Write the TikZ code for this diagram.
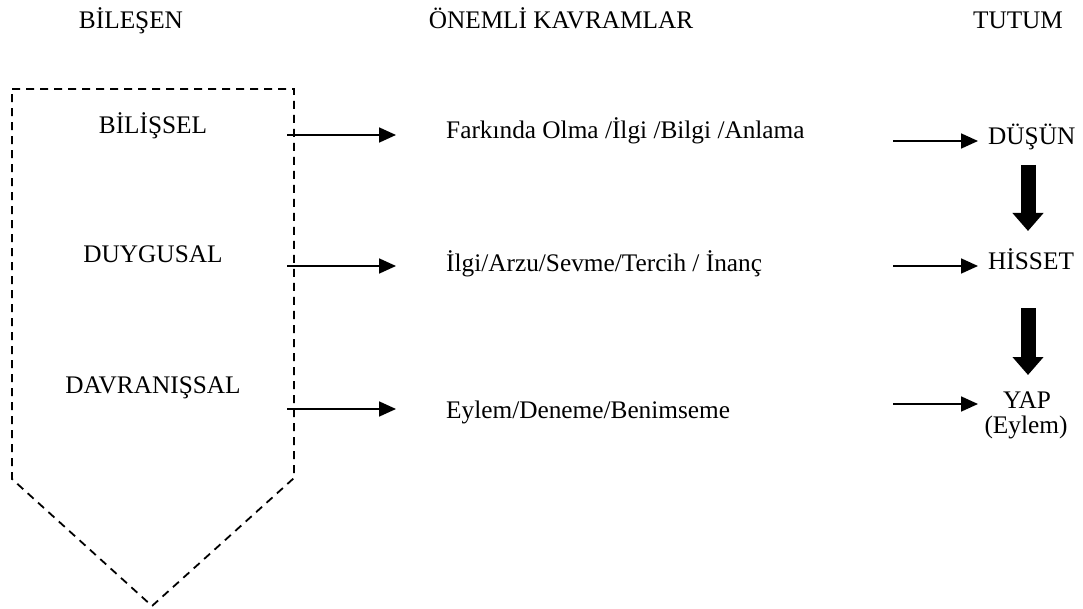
\documentclass[tikz,border=0pt]{standalone}
\usepackage{fontspec}
\setmainfont{Liberation Serif}
\usetikzlibrary{arrows.meta}
\begin{document}
\begin{tikzpicture}[x=1pt,y=-1pt,
  txt/.style={inner sep=0pt,font=\fontsize{25.3}{30}\selectfont},
  thin arrow/.style={line width=1.8pt,-{Triangle[length=17pt,width=15pt]}},
  fat arrow/.style={line width=15pt,-{Triangle[length=18pt,width=30pt]}},
  frame/.style={line width=1.8pt,dash pattern=on 8pt off 6pt}]
\useasboundingbox (0,0) rectangle (1083,609);
% headers
\node[txt,anchor=base] (h1) at (131,29) {BİLEŞEN};
\node[txt,anchor=base] (h2) at (561,29) {ÖNEMLİ KAVRAMLAR};
\node[txt,anchor=base] (h3) at (1018,29) {TUTUM};
% pentagon frame
\draw[frame] (12,89) -- (294,89) -- (294,478) -- (152,606) -- (12,479) -- cycle;
% left labels
\node[txt,anchor=base] (b1) at (153,134) {BİLİŞSEL};
\node[txt,anchor=base] (b2) at (153,263) {DUYGUSAL};
\node[txt,anchor=base] (b3) at (153,393) {DAVRANIŞSAL};
% middle texts
\node[txt,anchor=base west] (k1) at (446,139) {Farkında Olma /İlgi /Bilgi /Anlama};
\node[txt,anchor=base west] (k2) at (446,272) {İlgi/Arzu/Sevme/Tercih / İnanç};
\node[txt,anchor=base west] (k3) at (446,418) {Eylem/Deneme/Benimseme};
% right texts
\node[txt,anchor=base west] (t1) at (988,145) {DÜŞÜN};
\node[txt,anchor=base west] (t2) at (988,270) {HİSSET};
\node[txt,anchor=base] (t3) at (1027,408) {YAP};
\node[txt,anchor=base] (t3b) at (1026,433) {(Eylem)};
% coordinates for arrow ends
\coordinate (a1s) at (287,135); \coordinate (a1e) at (396,135);
\coordinate (a2s) at (287,266); \coordinate (a2e) at (396,266);
\coordinate (a3s) at (287,409); \coordinate (a3e) at (396,409);
\coordinate (c1s) at (893,141); \coordinate (c1e) at (978,141);
\coordinate (c2s) at (893,266); \coordinate (c2e) at (978,266);
\coordinate (c3s) at (893,404); \coordinate (c3e) at (978,404);
\draw[thin arrow] (a1s) -- (a1e);
\draw[thin arrow] (a2s) -- (a2e);
\draw[thin arrow] (a3s) -- (a3e);
\draw[thin arrow] (c1s) -- (c1e);
\draw[thin arrow] (c2s) -- (c2e);
\draw[thin arrow] (c3s) -- (c3e);
% fat arrows
\coordinate (f1s) at (1028,165); \coordinate (f1e) at (1028,231);
\coordinate (f2s) at (1028,308); \coordinate (f2e) at (1028,375);
\draw[fat arrow] (f1s) -- (f1e);
\draw[fat arrow] (f2s) -- (f2e);
\end{tikzpicture}
\end{document}
